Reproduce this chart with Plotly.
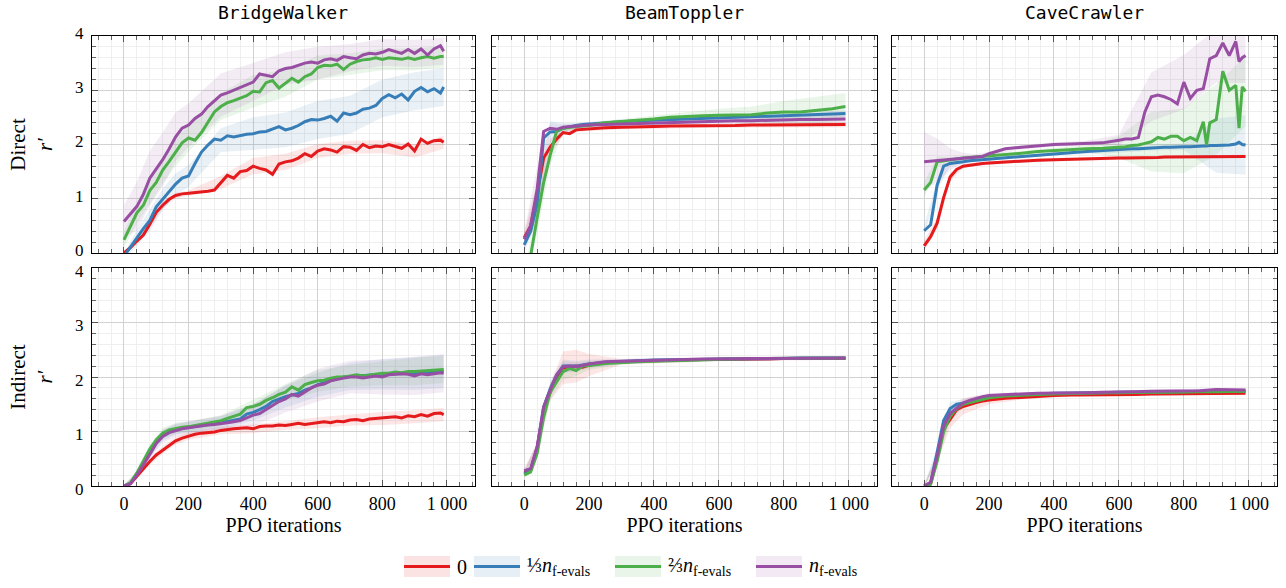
import plotly.graph_objects as go

# ---------------- data ----------------
SERIES_NAMES = ["0", "1/3 n_f-evals", "2/3 n_f-evals", "n_f-evals"]
COLORS = ["#e41a1c", "#377eb8", "#4daf4a", "#984ea3"]
ENVS = ["BridgeWalker", "BeamToppler", "CaveCrawler"]
ROWS = ["Direct", "Indirect"]

X_TICKS = [0, 200, 400, 600, 800, 1000]
X_TICKTEXT = ["0", "200", "400", "600", "800", "1 000"]
Y_TICKS = [0, 1, 2, 3, 4]

# x grids (PPO iterations)
XB = list(range(0, 1000, 20)) + [990]
XM = [0, 20, 40, 60, 80, 100, 120, 140, 160, 180, 200, 250, 300, 350, 400, 450, 500,
      550, 600, 650, 700, 750, 800, 850, 900, 950, 990]
XC = [0, 20, 40, 60, 80, 100, 120, 140, 160, 180, 200, 250, 300, 350, 400, 450, 500, 550, 600,
      620, 640, 660, 680, 700, 720, 740, 760, 780, 800, 820, 840, 860, 870, 880,
      900, 920, 940, 960, 970, 980, 990]
# x positions where the shaded spread is sampled
BX = [0, 40, 80, 120, 160, 200, 300, 400, 500, 600, 700, 800, 900, 990]

# ---- BridgeWalker, direct ----
bw_d_red = [0.00, 0.10, 0.22, 0.33, 0.53, 0.75, 0.88, 0.99, 1.06, 1.09,
            1.10, 1.11, 1.12, 1.14, 1.16, 1.30, 1.43, 1.38, 1.50, 1.52,
            1.60, 1.56, 1.53, 1.45, 1.64, 1.68, 1.70, 1.75, 1.83, 1.78,
            1.88, 1.92, 1.90, 1.86, 1.96, 1.95, 1.89, 2.00, 1.94, 1.97,
            1.96, 2.00, 1.97, 1.93, 2.01, 1.88, 2.10, 2.02, 2.07, 2.08, 2.04]
bw_d_blue = [-0.06, 0.10, 0.28, 0.45, 0.60, 0.85, 0.99, 1.12, 1.27, 1.38,
             1.42, 1.65, 1.86, 1.99, 2.10, 2.08, 2.16, 2.14, 2.17, 2.19,
             2.20, 2.23, 2.24, 2.28, 2.33, 2.27, 2.30, 2.35, 2.42, 2.46,
             2.45, 2.48, 2.52, 2.43, 2.58, 2.55, 2.58, 2.65, 2.67, 2.72,
             2.85, 2.92, 2.86, 2.93, 2.82, 2.98, 3.05, 2.97, 3.03, 2.95, 3.06]
bw_d_green = [0.24, 0.50, 0.74, 0.88, 1.15, 1.30, 1.53, 1.69, 1.85, 2.03,
              2.12, 2.08, 2.22, 2.40, 2.60, 2.70, 2.77, 2.81, 2.85, 2.90,
              2.98, 2.97, 3.14, 3.18, 3.04, 3.13, 3.22, 3.15, 3.25, 3.30,
              3.42, 3.46, 3.45, 3.48, 3.38, 3.48, 3.53, 3.56, 3.57, 3.60,
              3.57, 3.60, 3.59, 3.57, 3.60, 3.57, 3.60, 3.62, 3.59, 3.62, 3.62]
bw_d_purple = [0.58, 0.72, 0.86, 1.08, 1.38, 1.55, 1.72, 1.92, 2.14, 2.30,
               2.36, 2.48, 2.56, 2.70, 2.80, 2.91, 2.95, 3.00, 3.05, 3.10,
               3.15, 3.30, 3.27, 3.25, 3.36, 3.40, 3.42, 3.46, 3.50, 3.52,
               3.50, 3.56, 3.58, 3.55, 3.62, 3.60, 3.58, 3.65, 3.68, 3.67,
               3.70, 3.75, 3.71, 3.68, 3.75, 3.68, 3.76, 3.65, 3.76, 3.82, 3.72]
bw_d_spread = [
    [0.03, 0.05, 0.07, 0.06, 0.05, 0.05, 0.12, 0.15, 0.15, 0.13, 0.12, 0.12, 0.12, 0.12],
    [0.05, 0.15, 0.20, 0.20, 0.20, 0.20, 0.22, 0.30, 0.32, 0.35, 0.35, 0.35, 0.35, 0.35],
    [0.15, 0.20, 0.25, 0.25, 0.25, 0.25, 0.25, 0.30, 0.25, 0.22, 0.20, 0.20, 0.20, 0.20],
    [0.30, 0.45, 0.50, 0.50, 0.45, 0.40, 0.40, 0.35, 0.30, 0.30, 0.25, 0.25, 0.25, 0.25],
]

# ---- BeamToppler, direct ----
bt_d_red = [0.28, 0.50, 1.10, 1.75, 1.95, 2.10, 2.22, 2.20, 2.27, 2.28, 2.29,
            2.31, 2.32, 2.32, 2.33, 2.34, 2.34, 2.35, 2.35, 2.35, 2.36, 2.36, 2.36, 2.36, 2.37, 2.37, 2.37]
bt_d_blue = [0.15, 0.40, 0.90, 2.12, 2.23, 2.24, 2.30, 2.33, 2.35, 2.37, 2.38,
             2.40, 2.42, 2.44, 2.45, 2.47, 2.48, 2.49, 2.50, 2.51, 2.52, 2.53, 2.54, 2.55, 2.56, 2.57, 2.57]
bt_d_green = [-0.50, -0.05, 0.65, 1.30, 1.80, 2.25, 2.30, 2.32, 2.33, 2.34, 2.35,
              2.40, 2.42, 2.44, 2.47, 2.50, 2.52, 2.53, 2.54, 2.54, 2.55, 2.58, 2.60, 2.60, 2.63, 2.66, 2.70]
bt_d_purple = [0.25, 0.50, 1.18, 2.24, 2.30, 2.28, 2.32, 2.33, 2.34, 2.35, 2.36,
               2.37, 2.38, 2.39, 2.40, 2.41, 2.42, 2.43, 2.43, 2.44, 2.44, 2.45, 2.45, 2.46, 2.46, 2.47, 2.47]
bt_d_spread = [
    [0.10, 0.20, 0.15, 0.05, 0.04, 0.04, 0.04, 0.04, 0.04, 0.04, 0.04, 0.05, 0.05, 0.05],
    [0.15, 0.30, 0.20, 0.10, 0.05, 0.04, 0.04, 0.04, 0.05, 0.05, 0.06, 0.06, 0.06, 0.06],
    [0.10, 0.30, 0.20, 0.06, 0.05, 0.05, 0.05, 0.06, 0.08, 0.12, 0.15, 0.20, 0.25, 0.25],
    [0.15, 0.40, 0.10, 0.05, 0.04, 0.04, 0.04, 0.04, 0.05, 0.05, 0.05, 0.06, 0.08, 0.08],
]

# ---- CaveCrawler, direct ----
cc_d_red = [0.13, 0.30, 0.55, 1.02, 1.40, 1.54, 1.60, 1.62, 1.64, 1.65, 1.66,
            1.68, 1.70, 1.71, 1.72, 1.73, 1.74, 1.74, 1.75,
            1.75, 1.75, 1.76, 1.76, 1.76, 1.76, 1.77, 1.77, 1.77, 1.77, 1.77, 1.77, 1.78,
            1.78, 1.78, 1.78, 1.78, 1.78, 1.78, 1.78, 1.78, 1.78]
cc_d_blue = [0.41, 0.52, 1.25, 1.60, 1.65, 1.66, 1.68, 1.70, 1.71, 1.72, 1.73,
             1.76, 1.78, 1.80, 1.83, 1.85, 1.87, 1.89, 1.90,
             1.91, 1.92, 1.92, 1.93, 1.94, 1.94, 1.95, 1.95, 1.96, 1.96, 1.96, 1.97, 1.97,
             1.97, 1.98, 1.98, 1.98, 1.99, 2.01, 2.04, 2.00, 1.99]
cc_d_green = [1.16, 1.30, 1.68, 1.70, 1.72, 1.74, 1.75, 1.76, 1.77, 1.77, 1.78,
              1.81, 1.84, 1.87, 1.89, 1.90, 1.92, 1.93, 1.95,
              1.96, 1.98, 1.99, 2.02, 2.05, 2.13, 2.10, 2.15, 2.15, 2.07, 2.13, 2.07, 2.42,
              1.99, 2.40, 2.46, 3.35, 3.00, 3.09, 2.30, 3.06, 2.98]
cc_d_purple = [1.68, 1.69, 1.71, 1.72, 1.73, 1.74, 1.75, 1.76, 1.77, 1.78, 1.83,
               1.92, 1.95, 1.98, 2.00, 2.01, 2.02, 2.03, 2.08,
               2.10, 2.10, 2.13, 2.60, 2.88, 2.91, 2.88, 2.83, 2.75, 3.15, 2.85, 3.00, 3.03,
               3.30, 3.58, 3.64, 3.87, 3.64, 3.90, 3.53, 3.60, 3.64]
cc_d_spread = [
    [0.10, 0.10, 0.08, 0.04, 0.03, 0.03, 0.03, 0.03, 0.03, 0.03, 0.03, 0.03, 0.03, 0.03],
    [0.10, 0.10, 0.05, 0.04, 0.03, 0.03, 0.03, 0.03, 0.04, 0.05, 0.05, 0.06, 0.50, 0.55],
    [0.15, 0.10, 0.05, 0.04, 0.04, 0.04, 0.04, 0.05, 0.06, 0.20, 0.55, 0.60, 0.65, 0.65],
    [0.55, 0.40, 0.20, 0.10, 0.05, 0.04, 0.04, 0.04, 0.05, 0.10, 0.45, 0.50, 0.50, 0.50],
]

# ---- BridgeWalker, indirect ----
bw_i_red = [0.00, 0.04, 0.18, 0.32, 0.45, 0.57, 0.66, 0.75, 0.83, 0.88,
            0.92, 0.95, 0.97, 0.98, 0.99, 1.02, 1.04, 1.05, 1.06, 1.07,
            1.05, 1.09, 1.10, 1.10, 1.12, 1.11, 1.13, 1.15, 1.13, 1.15,
            1.16, 1.18, 1.16, 1.19, 1.18, 1.21, 1.22, 1.20, 1.23, 1.24,
            1.24, 1.26, 1.27, 1.25, 1.29, 1.27, 1.31, 1.28, 1.33, 1.34, 1.31]
bw_i_blue = [0.00, 0.05, 0.22, 0.40, 0.60, 0.80, 0.93, 1.00, 1.04, 1.06,
             1.08, 1.10, 1.12, 1.13, 1.14, 1.16, 1.18, 1.20, 1.23, 1.32,
             1.35, 1.40, 1.46, 1.55, 1.60, 1.64, 1.67, 1.70, 1.76, 1.80,
             1.86, 1.90, 1.94, 1.97, 2.00, 2.01, 2.02, 2.02, 2.03, 2.04,
             2.05, 2.05, 2.06, 2.06, 2.07, 2.06, 2.08, 2.08, 2.09, 2.10, 2.10]
bw_i_green = [0.00, 0.06, 0.24, 0.45, 0.68, 0.85, 0.97, 1.03, 1.06, 1.08,
              1.09, 1.11, 1.13, 1.15, 1.17, 1.20, 1.24, 1.28, 1.32, 1.44,
              1.46, 1.50, 1.57, 1.62, 1.68, 1.72, 1.82, 1.76, 1.86, 1.90,
              1.93, 1.94, 1.98, 2.00, 2.00, 2.02, 2.04, 2.02, 2.04, 2.05,
              2.07, 2.07, 2.09, 2.08, 2.10, 2.10, 2.11, 2.12, 2.13, 2.13, 2.14]
bw_i_purple = [0.00, 0.04, 0.20, 0.38, 0.58, 0.78, 0.91, 0.98, 1.02, 1.05,
               1.07, 1.09, 1.10, 1.12, 1.13, 1.14, 1.16, 1.18, 1.20, 1.25,
               1.30, 1.33, 1.40, 1.48, 1.55, 1.60, 1.68, 1.65, 1.72, 1.80,
               1.85, 1.87, 1.93, 1.96, 1.98, 2.00, 2.00, 1.98, 2.00, 2.02,
               2.00, 2.04, 2.05, 2.06, 2.05, 2.02, 2.06, 2.04, 2.06, 2.08, 2.07]
bw_i_spread = [
    [0.02, 0.03, 0.06, 0.07, 0.07, 0.07, 0.07, 0.08, 0.08, 0.10, 0.10, 0.12, 0.12, 0.12],
    [0.02, 0.04, 0.08, 0.10, 0.10, 0.10, 0.12, 0.15, 0.20, 0.22, 0.25, 0.28, 0.30, 0.30],
    [0.02, 0.04, 0.08, 0.10, 0.10, 0.10, 0.10, 0.12, 0.15, 0.20, 0.20, 0.22, 0.25, 0.25],
    [0.02, 0.04, 0.08, 0.12, 0.12, 0.12, 0.15, 0.20, 0.25, 0.30, 0.30, 0.32, 0.35, 0.35],
]

# ---- BeamToppler, indirect ----
bt_i_red = [0.25, 0.30, 0.70, 1.40, 1.72, 2.00, 2.17, 2.18, 2.20, 2.18, 2.22,
            2.26, 2.28, 2.29, 2.30, 2.30, 2.31, 2.32, 2.32, 2.33, 2.33, 2.33, 2.34, 2.34, 2.34, 2.34, 2.34]
bt_i_blue = [0.22, 0.30, 0.70, 1.45, 1.78, 2.03, 2.20, 2.20, 2.20, 2.22, 2.24,
             2.27, 2.29, 2.30, 2.31, 2.31, 2.32, 2.32, 2.33, 2.33, 2.34, 2.34, 2.34, 2.35, 2.35, 2.35, 2.35]
bt_i_green = [0.20, 0.26, 0.60, 1.27, 1.72, 1.92, 2.10, 2.16, 2.12, 2.20, 2.21,
              2.25, 2.27, 2.28, 2.29, 2.30, 2.30, 2.31, 2.33, 2.33, 2.34, 2.34, 2.34, 2.35, 2.35, 2.35, 2.35]
bt_i_purple = [0.28, 0.32, 0.72, 1.45, 1.76, 2.04, 2.19, 2.20, 2.19, 2.22, 2.24,
               2.28, 2.29, 2.30, 2.31, 2.32, 2.33, 2.33, 2.33, 2.34, 2.34, 2.34, 2.34, 2.35, 2.35, 2.35, 2.35]
bt_i_spread = [
    [0.05, 0.10, 0.15, 0.30, 0.30, 0.20, 0.05, 0.04, 0.04, 0.03, 0.03, 0.03, 0.03, 0.03],
    [0.04, 0.08, 0.15, 0.12, 0.10, 0.08, 0.04, 0.03, 0.03, 0.03, 0.03, 0.03, 0.03, 0.03],
    [0.04, 0.08, 0.15, 0.15, 0.10, 0.08, 0.04, 0.03, 0.03, 0.03, 0.03, 0.03, 0.03, 0.03],
    [0.04, 0.08, 0.12, 0.10, 0.08, 0.06, 0.04, 0.03, 0.03, 0.03, 0.03, 0.03, 0.03, 0.03],
]

# ---- CaveCrawler, indirect ----
cc_i_red = [0.00, 0.04, 0.50, 1.05, 1.22, 1.40, 1.46, 1.50, 1.53, 1.56, 1.58,
            1.61, 1.63, 1.65, 1.66, 1.67, 1.67, 1.68, 1.68, 1.68, 1.69, 1.69, 1.69, 1.70, 1.70, 1.70, 1.70]
cc_i_blue = [0.00, 0.06, 0.62, 1.20, 1.42, 1.50, 1.52, 1.56, 1.59, 1.62, 1.64,
             1.66, 1.68, 1.69, 1.70, 1.70, 1.71, 1.71, 1.72, 1.72, 1.72, 1.73, 1.73, 1.74, 1.74, 1.74, 1.74]
cc_i_green = [0.00, 0.03, 0.45, 1.00, 1.28, 1.42, 1.50, 1.53, 1.57, 1.60, 1.62,
              1.65, 1.67, 1.68, 1.69, 1.70, 1.70, 1.71, 1.71, 1.72, 1.72, 1.72, 1.73, 1.73, 1.73, 1.74, 1.74]
cc_i_purple = [0.00, 0.07, 0.55, 1.10, 1.33, 1.43, 1.52, 1.57, 1.61, 1.64, 1.66,
               1.68, 1.69, 1.70, 1.70, 1.71, 1.71, 1.72, 1.72, 1.73, 1.74, 1.74, 1.75, 1.75, 1.77, 1.77, 1.76]
cc_i_spread = [
    [0.02, 0.08, 0.15, 0.15, 0.12, 0.08, 0.04, 0.03, 0.03, 0.03, 0.03, 0.03, 0.03, 0.03],
    [0.02, 0.10, 0.12, 0.08, 0.05, 0.04, 0.03, 0.03, 0.03, 0.03, 0.03, 0.03, 0.03, 0.03],
    [0.02, 0.08, 0.10, 0.06, 0.05, 0.04, 0.03, 0.03, 0.03, 0.03, 0.03, 0.03, 0.03, 0.03],
    [0.02, 0.08, 0.10, 0.06, 0.05, 0.04, 0.03, 0.03, 0.03, 0.03, 0.03, 0.03, 0.03, 0.04],
]

PANELS = [
    [(XB, [bw_d_red, bw_d_blue, bw_d_green, bw_d_purple], bw_d_spread),
     (XM, [bt_d_red, bt_d_blue, bt_d_green, bt_d_purple], bt_d_spread),
     (XC, [cc_d_red, cc_d_blue, cc_d_green, cc_d_purple], cc_d_spread)],
    [(XB, [bw_i_red, bw_i_blue, bw_i_green, bw_i_purple], bw_i_spread),
     (XM, [bt_i_red, bt_i_blue, bt_i_green, bt_i_purple], bt_i_spread),
     (XM, [cc_i_red, cc_i_blue, cc_i_green, cc_i_purple], cc_i_spread)],
]

# ---------------- styling / layout ----------------
W, H = 1286, 588
ML, MR, MT, MB = 92, 9, 36, 102
XDOM = [[0.0, 0.3232], [0.3376, 0.6624], [0.6751, 1.0]]
YDOM = [[0.5178, 1.0], [0.0, 0.4844]]
SERIF = "Liberation Serif, Times New Roman, serif"
MONO = "DejaVu Sans Mono, monospace"
LINE_W = 3


def rgba(hexc, a):
    h = hexc.lstrip("#")
    return "rgba(%d,%d,%d,%.3f)" % (int(h[0:2], 16), int(h[2:4], 16), int(h[4:6], 16), a)


fig = go.Figure()

# shaded spreads first
for r in range(2):
    for c in range(3):
        k = r * 3 + c + 1
        xs, ys_list, spreads = PANELS[r][c]
        for s in range(4):
            y = ys_list[s]
            idx = [xs.index(b) for b in BX]
            hi = [y[i] + w for i, w in zip(idx, spreads[s])]
            lo = [y[i] - w for i, w in zip(idx, spreads[s])]
            fig.add_trace(go.Scatter(
                x=BX + BX[::-1], y=hi + lo[::-1], mode="lines", fill="toself",
                fillcolor=rgba(COLORS[s], 0.11), line=dict(width=0),
                hoverinfo="skip", showlegend=False,
                xaxis="x" if k == 1 else "x%d" % k, yaxis="y" if k == 1 else "y%d" % k))

# mean lines
for r in range(2):
    for c in range(3):
        k = r * 3 + c + 1
        xs, ys_list, spreads = PANELS[r][c]
        for s in range(4):
            fig.add_trace(go.Scatter(
                x=xs, y=ys_list[s], mode="lines", name=SERIES_NAMES[s],
                line=dict(color=COLORS[s], width=LINE_W), showlegend=False,
                xaxis="x" if k == 1 else "x%d" % k, yaxis="y" if k == 1 else "y%d" % k))

layout = dict(
    width=W, height=H,
    margin=dict(l=ML, r=MR, t=MT, b=MB),
    paper_bgcolor="white", plot_bgcolor="white",
    font=dict(family=SERIF, size=18, color="black"),
    showlegend=False,
)

tickfont = dict(family=SERIF, size=17, color="black")
for r in range(2):
    for c in range(3):
        k = r * 3 + c + 1
        xa = dict(
            domain=XDOM[c], anchor="y" if k == 1 else "y%d" % k,
            range=[-99, 1087], tickmode="array", tickvals=X_TICKS, ticktext=X_TICKTEXT,
            showticklabels=(r == 1), ticks="inside", ticklen=6, tickwidth=1, tickcolor="#555",
            showline=True, linecolor="black", linewidth=1, mirror="allticks",
            showgrid=True, gridcolor="#d2d2d2", gridwidth=1, zeroline=False,
            minor=dict(tick0=0, dtick=40, ticks="inside", ticklen=4, tickcolor="#666",
                       showgrid=True, gridcolor="#efefef", gridwidth=1),
            tickfont=dict(family=SERIF, size=18, color="black"), ticklabelstandoff=1,
            automargin=False,
        )
        if r == 1:
            xa["title"] = dict(text="PPO iterations", font=dict(family=SERIF, size=20), standoff=0)
        ya = dict(
            domain=YDOM[r], anchor="x" if k == 1 else "x%d" % k,
            range=[0, 4], tickmode="array", tickvals=Y_TICKS,
            showticklabels=(c == 0), ticks="inside", ticklen=6, tickwidth=1, tickcolor="#555",
            showline=True, linecolor="black", linewidth=1, mirror="allticks",
            showgrid=True, gridcolor="#d2d2d2", gridwidth=1, zeroline=False,
            minor=dict(tick0=0, dtick=0.2, ticks="inside", ticklen=4, tickcolor="#666",
                       showgrid=True, gridcolor="#efefef", gridwidth=1),
            tickfont=tickfont, ticklabelstandoff=4,
            ticklabelshift=(-3 if r == 0 else 3),
            automargin=False,
        )
        if c == 0:
            ya["title"] = dict(text=ROWS[r] + "<br><i>r′</i>",
                               font=dict(family=SERIF, size=21), standoff=16)
        layout["xaxis" if k == 1 else "xaxis%d" % k] = xa
        layout["yaxis" if k == 1 else "yaxis%d" % k] = ya

annotations = []
for c in range(3):
    annotations.append(dict(
        text=ENVS[c], x=(XDOM[c][0] + XDOM[c][1]) / 2, y=1.0, xref="paper", yref="paper",
        xanchor="center", yanchor="bottom", yshift=11, showarrow=False,
        font=dict(family=MONO, size=18, color="black")))

# hand-drawn legend (shaded box + line + label), positioned in pixels
PLOT_W = W - ML - MR
PLOT_H = H - MT - MB


def px2x(px):
    return (px - ML) / PLOT_W


def py2y(py):
    return (H - MB - py) / PLOT_H


LEG_LABELS = ["0",
              "⅓<i>n</i><sub>f-evals</sub>",
              "⅔<i>n</i><sub>f-evals</sub>",
              "<i>n</i><sub>f-evals</sub>"]
LEG_BOX_X = [404, 474, 615, 756]
BOX_W, BOX_TOP, BOX_BOT, LEG_MID = 46, 556, 577, 566.5
shapes = []
for s in range(4):
    x0 = LEG_BOX_X[s]
    shapes.append(dict(type="rect", xref="paper", yref="paper",
                       x0=px2x(x0), x1=px2x(x0 + BOX_W), y0=py2y(BOX_BOT), y1=py2y(BOX_TOP),
                       fillcolor=rgba(COLORS[s], 0.12), line=dict(width=0), layer="above"))
    shapes.append(dict(type="line", xref="paper", yref="paper",
                       x0=px2x(x0), x1=px2x(x0 + BOX_W), y0=py2y(LEG_MID), y1=py2y(LEG_MID),
                       line=dict(color=COLORS[s], width=LINE_W), layer="above"))
    annotations.append(dict(
        text=LEG_LABELS[s], x=px2x(x0 + BOX_W + 5), y=py2y(LEG_MID), xref="paper", yref="paper",
        xanchor="left", yanchor="middle", showarrow=False,
        font=dict(family=SERIF, size=20, color="black")))

layout["annotations"] = annotations
layout["shapes"] = shapes
fig.update_layout(**layout)

fig.write_html("out.html", config={"displayModeBar": False},
               post_script="document.body.style.margin='0';document.body.style.padding='0';")
